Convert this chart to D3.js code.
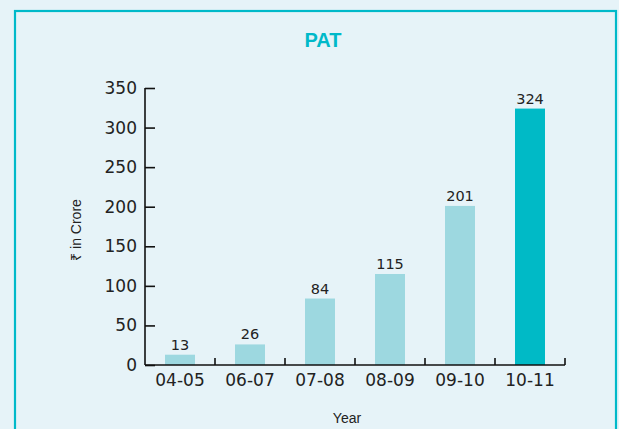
<!DOCTYPE html>
<html><head><meta charset="utf-8">
<script src="https://cdn.jsdelivr.net/npm/d3@7"></script>
<style>
html,body{margin:0;padding:0;background:#e6f3f8;}
svg{display:block;}
</style></head>
<body>
<script>
const categories = ["04-05","06-07","07-08","08-09","09-10","10-11"];
const values = [13, 26, 84, 115, 201, 324];
const yTicks = [0,50,100,150,200,250,300,350];
const highlight = "10-11";

const W = 619, H = 429;
const svg = d3.select("body").append("svg").attr("width", W).attr("height", H);
svg.append("rect").attr("width", W).attr("height", H).attr("fill", "#e6f3f8");
svg.append("rect").attr("x", 15).attr("y", 11).attr("width", 601).attr("height", 440)
  .attr("fill", "#e6f3f8").attr("stroke", "#00b9c9").attr("stroke-width", 2.2);

svg.append("text").attr("x", 323).attr("y", 47).attr("text-anchor", "middle")
  .attr("font-family", "Liberation Sans Narrow, Liberation Sans, Arial, sans-serif").attr("font-weight", "bold")
  .attr("font-size", 20).attr("fill", "#00b9c9").text("PAT");

const x = d3.scaleBand().domain(categories).range([145, 565]).paddingInner(0.5714).paddingOuter(0.2857);
const y = d3.scaleLinear().domain([0, 350]).range([365, 88]);

const font = "DejaVu Sans, sans-serif";
const font2 = "Liberation Sans, Arial, sans-serif";

// bars
svg.selectAll("rect.bar").data(categories).enter().append("rect")
  .attr("class", "bar")
  .attr("x", d => x(d)).attr("width", x.bandwidth())
  .attr("y", (d, i) => y(values[i])).attr("height", (d, i) => y(0) - y(values[i]))
  .attr("fill", d => d === highlight ? "#00bac6" : "#9dd8e0");

// value labels
svg.selectAll("text.val").data(categories).enter().append("text")
  .attr("class", "val")
  .attr("x", d => x(d) + x.bandwidth() / 2)
  .attr("y", (d, i) => y(values[i]) - 5)
  .attr("text-anchor", "middle").attr("font-family", font).attr("font-size", 14.5)
  .attr("fill", "#222").text((d, i) => values[i]);

// y axis
const yAxis = d3.axisRight(y).tickValues(yTicks).tickSize(10).tickFormat(d3.format("d"));
const gy = svg.append("g").attr("transform", "translate(145,0)").call(yAxis);
gy.select(".domain").attr("d", "M0," + y(350) + "V" + y(0)).attr("stroke", "#111").attr("stroke-width", 1.6);
gy.selectAll(".tick line").attr("stroke", "#111").attr("stroke-width", 1.6);
gy.selectAll(".tick text").attr("x", -8).attr("text-anchor", "end").attr("font-family", font)
  .attr("font-size", 17).attr("fill", "#222");

// x axis
const boundaries = categories.map(c => x(c) + x.bandwidth() / 2 + x.step() / 2);
const gx = svg.append("g");
gx.append("line").attr("x1", 145).attr("x2", 565).attr("y1", 365).attr("y2", 365)
  .attr("stroke", "#111").attr("stroke-width", 1.6);
gx.selectAll("line.tk").data(boundaries).enter().append("line").attr("class", "tk")
  .attr("x1", d => d).attr("x2", d => d).attr("y1", 365).attr("y2", 358)
  .attr("stroke", "#111").attr("stroke-width", 1.6);
gx.selectAll("text").data(categories).enter().append("text")
  .attr("x", d => x(d) + x.bandwidth() / 2).attr("y", 386)
  .attr("text-anchor", "middle").attr("font-family", font).attr("font-size", 17)
  .attr("fill", "#222").text(d => d);

svg.append("text").attr("x", 347).attr("y", 423).attr("text-anchor", "middle")
  .attr("font-family", font2).attr("font-size", 14).attr("fill", "#222").text("Year");

svg.append("text").attr("transform", "translate(81,230) rotate(-90)")
  .attr("text-anchor", "middle").attr("font-family", font2).attr("font-size", 14)
  .attr("fill", "#222").text("₹ in Crore");
</script>
</body></html>
